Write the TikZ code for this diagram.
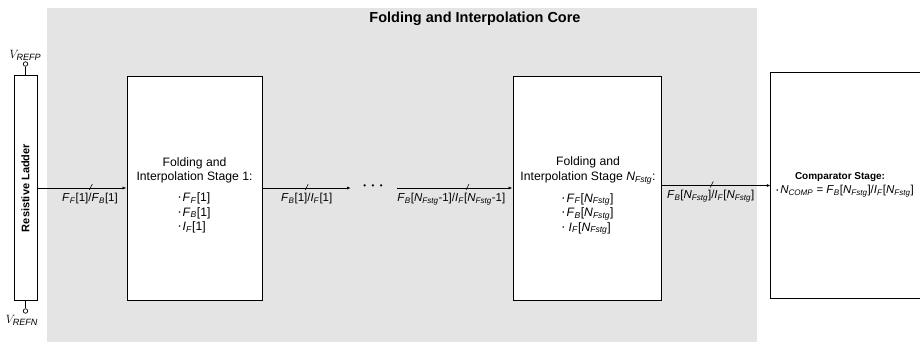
\documentclass[tikz,border=0pt]{standalone}
\usepackage{fontspec}
\setmainfont{Liberation Sans}
\usetikzlibrary{arrows.meta,positioning}
\definecolor{core}{HTML}{E4E4E4}
% italic signal name with italic subscript
\newcommand{\sv}[2]{\textit{#1}\textsubscript{\textit{#2}}}
\newcommand{\nf}{\sv{N}{Fstg}}
\newcommand{\bul}{\raisebox{1.8pt}{\fontsize{6}{6}\selectfont\textbullet}\hspace{2pt}}

\begin{document}
\begin{tikzpicture}[x=1pt,y=-1pt,
      font=\fontsize{12.2}{14.5}\selectfont,
      stagebox/.style={draw,line width=0.9pt,fill=white,minimum width=#1,minimum height=224pt,inner sep=0pt},
      term/.style={circle,draw,fill=white,line width=0.7pt,inner sep=0pt,minimum size=4.5pt},
      arr/.style={-{Latex[length=4pt,width=3pt]},line width=0.8pt},
      tick/.style={line width=0.6pt},
      lbl/.style={below,inner sep=4.5pt,font=\fontsize{11.5}{12}\selectfont},
      vref/.style={inner sep=0pt,font=\fontsize{13}{14}\selectfont}]

    \useasboundingbox (0,0) rectangle (920,342);
    \fill[core] (47,8) rectangle (757,342);
    \node[font=\bfseries\fontsize{14.5}{16}\selectfont] (coretitle) at (475,19) {Folding and Interpolation Core};

    % resistive ladder with reference terminals
    \node[draw,line width=0.9pt,fill=white,minimum width=23pt,minimum height=225pt,inner sep=0pt] (ladder) at (25.5,188) {};
    \node[rotate=90,font=\bfseries\fontsize{11}{12}\selectfont] (laddertxt) at (ladder) {Resistive Ladder};
    \node[term] (vp) at (25.5,64) {};
    \node[term] (vn) at (25.5,311) {};
    \draw[line width=0.7pt] (vp) -- (ladder.north);
    \draw[line width=0.7pt] (ladder.south) -- (vn);
    \node[vref,above=1pt of vp] (vplbl) {$V_{\scriptstyle\mathit{REFP}}$};
    \node[vref] (vnlbl) at (22,320) {$V_{\scriptstyle\mathit{REFN}}$};

    % stages
    \node[stagebox=135pt] (st1) at (194.5,188) {};
    \node[align=center,inner sep=0pt] (st1h) at (194.5,170.5) {Folding and\\Interpolation Stage 1:};
    \node[align=left,inner sep=0pt,below=9pt of st1h] (st1l)
      {\bul\sv{F}{F}[1]\\\bul\sv{F}{B}[1]\\\bul\sv{I}{F}[1]};

    \node[stagebox=148pt] (stN) at (587,188) {};
    \node[align=center,inner sep=0pt] (stNh) at (588,170.5) {Folding and\\Interpolation Stage \nf:};
    \node[align=left,inner sep=0pt,below=9pt of stNh] (stNl)
      {\bul\sv{F}{F}[\nf]\\\bul\sv{F}{B}[\nf]\\\bul\,\sv{I}{F}[\nf]};

    \node[minimum width=150pt,minimum height=225pt,inner sep=0pt] (cmp) at (846,185.5) {};
    \draw[line width=0.9pt] (cmp.north east) -- (cmp.north west) -- (cmp.south west) -- (cmp.south east);
    \node[font=\bfseries\fontsize{10}{11}\selectfont,inner sep=0pt] (cmph) at (840,177) {Comparator Stage:};
    \node[font=\fontsize{11.5}{12}\selectfont,inner sep=0pt] (cmpl) at (845,191.5)
      {\bul\sv{N}{COMP} = \sv{F}{B}[\nf]/\sv{I}{F}[\nf]};

    % buses between stages
    \coordinate (d1) at (351,188);
    \coordinate (d2) at (397,188);
    \node[inner sep=0pt,font=\fontsize{8}{8}\selectfont] (dots) at (373,187) {\textbullet\hspace{5.5pt}\textbullet\hspace{5.5pt}\textbullet};

    \draw[arr] (ladder.east) -- (st1.west)
      coordinate[pos=0.6] (t0) node[lbl,pos=0.59] {\sv{F}{F}[1]/\sv{F}{B}[1]};
    \draw[tick] (t0) ++(-1.5,2) -- ++(3,-6);
    \draw[arr] (st1.east) -- (d1)
      coordinate[pos=0.5] (t1) node[lbl,pos=0.5] {\sv{F}{B}[1]/\sv{I}{F}[1]};
    \draw[tick] (t1) ++(-1.5,2) -- ++(3,-6);
    \draw[arr] (d2) -- (stN.west)
      coordinate[pos=0.61] (t2) node[lbl,pos=0.47] {\sv{F}{B}[\nf-1]/\sv{I}{F}[\nf-1]};
    \draw[tick] (t2) ++(-1.5,2) -- ++(3,-6);
    \draw[arr] (stN.east |- cmp.west) -- (cmp.west)
      coordinate[pos=0.46] (t3) node[lbl,pos=0.45] {\sv{F}{B}[\nf]/\sv{I}{F}[\nf]};
    \draw[tick] (t3) ++(-1.5,2) -- ++(3,-6);
\end{tikzpicture}
\end{document}
